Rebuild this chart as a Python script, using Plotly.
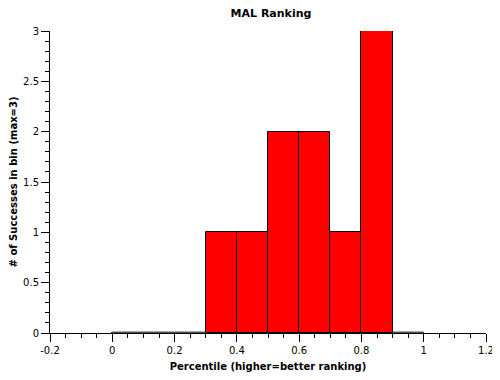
import plotly.graph_objects as go

bin_starts = [0.0, 0.1, 0.2, 0.3, 0.4, 0.5, 0.6, 0.7, 0.8, 0.9]
counts = [0, 0, 0, 1, 1, 2, 2, 1, 3, 0]
bin_width = 0.1
x_ticks = [-0.2, 0, 0.2, 0.4, 0.6, 0.8, 1, 1.2]
x_tick_labels = ["-0.2", "0", "0.2", "0.4", "0.6", "0.8", "1", "1.2"]
y_ticks = [0, 0.5, 1, 1.5, 2, 2.5, 3]
y_tick_labels = ["0", "0.5", "1", "1.5", "2", "2.5", "3"]

font = "DejaVu Sans"

fig = go.Figure()
fig.add_trace(go.Bar(
    x=[s + bin_width / 2 for s in bin_starts],
    y=counts,
    width=bin_width,
    marker=dict(color="#ff0000", line=dict(color="#000000", width=1)),
    hoverinfo="x+y",
))

# zero-height bins drawn as flat outlines
zx, zy = [], []
for s, c in zip(bin_starts, counts):
    if c == 0:
        zx += [s, s + bin_width, None]
        zy += [c, c, None]
fig.add_trace(go.Scatter(x=zx, y=zy, mode="lines",
                         line=dict(color="#505050", width=3),
                         hoverinfo="skip", cliponaxis=False))

# page body has an 8px offset; figure sized to fill the rest of the window
fig.update_layout(
    width=492, height=372,
    margin=dict(l=42, r=14, t=23, b=47, autoexpand=False),
    paper_bgcolor="white", plot_bgcolor="white",
    showlegend=False,
    bargap=0,
    font=dict(family=font, size=10, color="black"),
    title=dict(text="<b>MAL Ranking</b>", x=263 / 492, xanchor="center",
               y=1 - 5 / 372, yanchor="middle",
               font=dict(family=font, size=11, color="black")),
    xaxis=dict(range=[-0.2, 1.2], tickvals=x_ticks, ticktext=x_tick_labels,
               showgrid=False, zeroline=False, showline=True,
               linecolor="black", linewidth=1, automargin=False,
               ticks="outside", ticklen=8, tickcolor="black",
               minor=dict(dtick=0.05, ticks="outside", ticklen=4, tickcolor="black", showgrid=False),
               title=dict(text="<b>Percentile (higher=better ranking)</b>",
                          font=dict(family=font, size=10), standoff=7),
               tickfont=dict(family=font, size=10)),
    yaxis=dict(range=[0, 3], tickvals=y_ticks, ticktext=y_tick_labels,
               showgrid=False, zeroline=False, showline=True,
               linecolor="black", linewidth=1, automargin=False,
               ticks="outside", ticklen=8, tickcolor="black",
               minor=dict(dtick=0.1, ticks="outside", ticklen=4, tickcolor="black", showgrid=False),
               title=dict(text="<b># of Successes in bin (max=3)</b>",
                          font=dict(family=font, size=10), standoff=7),
               tickfont=dict(family=font, size=10)),
)

fig.write_html("out.html")
